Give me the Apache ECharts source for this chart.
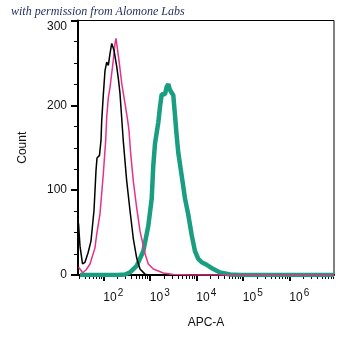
<!DOCTYPE html>
<html>
<head>
<meta charset="utf-8">
<script src="https://cdn.jsdelivr.net/npm/echarts@6/dist/echarts.min.js"></script>
<style>
  html, body { margin: 0; padding: 0; background: #fff; }
  #chart { width: 355px; height: 348px; }
</style>
</head>
<body>
<div id="chart"></div>
<script>
// x values are log10(APC-A), y values are event counts
let controlX = [1.467, 1.499, 1.553, 1.606, 1.671, 1.735, 1.800, 1.843, 1.865, 1.918, 1.951, 1.966, 2.000, 2.037, 2.073, 2.108, 2.144, 2.181, 2.230, 2.288, 2.327, 2.359, 2.430, 2.503, 2.574, 2.645, 2.718, 2.789, 2.897, 2.961];
let controlY = [61, 34, 13, 15, 26, 40, 76, 123, 138, 141, 159, 182, 212, 241, 251, 247, 261, 273, 265, 246, 230, 214, 158, 111, 76, 43, 20, 7, 1, 0];

let unstainedX = [1.467, 1.557, 1.628, 1.714, 1.821, 1.858, 1.929, 2.000, 2.052, 2.073, 2.108, 2.144, 2.215, 2.252, 2.273, 2.301, 2.344, 2.396, 2.467, 2.525, 2.553, 2.589, 2.645, 2.718, 2.789, 2.897, 2.968, 3.075, 3.290, 3.505, 3.865, 6.961];
let unstainedY = [9.5, 2.7, 5.9, 13, 32, 48, 72, 119, 159, 186, 209, 221, 253, 273, 279, 277, 250, 226, 202, 182, 170, 143, 111, 79, 52, 25, 13, 7, 2.4, 0.6, 0, 0];

let stainedX = [1.499, 2.316, 2.467, 2.574, 2.718, 2.860, 2.968, 3.041, 3.075, 3.112, 3.183, 3.219, 3.256, 3.290, 3.327, 3.363, 3.398, 3.434, 3.471, 3.505, 3.542, 3.578, 3.613, 3.686, 3.757, 3.828, 3.901, 3.972, 4.043, 4.116, 4.224, 4.366, 4.510, 4.725, 4.940, 6.961];
let stainedY = [0, 0, 0.6, 3, 10.7, 28, 58, 90, 129, 155, 180, 198, 213, 214, 213, 222, 225, 218, 217, 212, 188, 164, 144, 117, 90, 71, 47, 28, 19, 15, 12, 7, 3, 0.6, 0, 0];

let decades = [2, 3, 4, 5, 6];
let countTicks = [0, 100, 200, 300];

let xMin = 1.456;
let xMax = 6.961;

function pairs(xs, ys) {
  return xs.map((x, i) => [x, ys[i]]);
}

// minor log ticks 2..9 x 10^n inside the axis range
let minorTicks = [];
for (let n = 1; n <= 6; n++) {
  for (let k = 2; k <= 9; k++) {
    let v = Math.log10(k * Math.pow(10, n));
    if (v >= xMin && v <= xMax) minorTicks.push(v);
  }
}

let myChart = echarts.init(document.getElementById("chart"), null, { renderer: "canvas" });

let axisFont = "Liberation Sans, Arial, sans-serif";

myChart.setOption({
  animation: false,
  title: {
    text: "with permission from Alomone Labs",
    left: 11,
    top: 6,
    padding: 0,
    textStyle: {
      fontFamily: "Liberation Serif, serif",
      fontStyle: "italic",
      fontWeight: "normal",
      fontSize: 12,
      color: "#1d2b5b"
    }
  },
  grid: {
    left: 78,
    right: 21,
    top: 20.5,
    bottom: 73,
    show: true,
    borderColor: "#000",
    borderWidth: 1,
    containLabel: false
  },
  xAxis: [
    {
      type: "value",
      min: xMin,
      max: xMax,
      name: "APC-A",
      nameLocation: "middle",
      nameGap: 42,
      nameTextStyle: { fontFamily: axisFont, fontSize: 12, color: "#111" },
      axisLine: { show: true, lineStyle: { color: "#000", width: 2 } },
      axisTick: {
        show: true,
        length: 6,
        customValues: decades,
        lineStyle: { color: "#000", width: 2 }
      },
      axisLabel: {
        customValues: decades,
        align: "left",
        margin: 13,
        formatter: v => "{b|10}{s|" + Math.round(v) + "}",
        rich: {
          b: { fontFamily: axisFont, fontSize: 12, color: "#111" },
          s: { fontFamily: axisFont, fontSize: 10, color: "#111", padding: [0, 0, 10, 1] }
        }
      },
      splitLine: { show: false }
    },
    {
      type: "value",
      min: xMin,
      max: xMax,
      position: "bottom",
      axisLine: { show: false },
      axisTick: {
        show: true,
        length: 4,
        customValues: minorTicks,
        lineStyle: { color: "#000", width: 1 }
      },
      axisLabel: { show: false },
      splitLine: { show: false }
    }
  ],
  yAxis: {
    type: "value",
    min: 0,
    max: 300,
    interval: 100,
    name: "Count",
    nameLocation: "middle",
    nameGap: 49,
    nameTextStyle: { fontFamily: axisFont, fontSize: 12, color: "#111" },
    axisLine: { show: true, lineStyle: { color: "#000", width: 2 } },
    axisTick: { show: true, length: 7, lineStyle: { color: "#000", width: 2 } },
    minorTick: { show: true, splitNumber: 4, length: 4, lineStyle: { color: "#000", width: 1 } },
    axisLabel: {
      margin: 11,
      fontFamily: axisFont,
      fontSize: 12,
      color: "#111",
      formatter: v => (v === 300 ? "{top|300}" : String(v)),
      rich: {
        top: { fontFamily: axisFont, fontSize: 12, color: "#111", padding: [12, 0, 0, 0] }
      }
    },
    splitLine: { show: false }
  },
  series: [
    {
      name: "stained",
      type: "line",
      showSymbol: false,
      data: pairs(stainedX, stainedY),
      lineStyle: { color: "#1a9e82", width: 4.5 },
      z: 2
    },
    {
      name: "unstained",
      type: "line",
      showSymbol: false,
      data: pairs(unstainedX, unstainedY),
      lineStyle: { color: "#e6318b", width: 1.5 },
      z: 3
    },
    {
      name: "control",
      type: "line",
      showSymbol: false,
      data: pairs(controlX, controlY),
      lineStyle: { color: "#000", width: 1.5 },
      z: 4
    }
  ]
});
</script>
</body>
</html>
